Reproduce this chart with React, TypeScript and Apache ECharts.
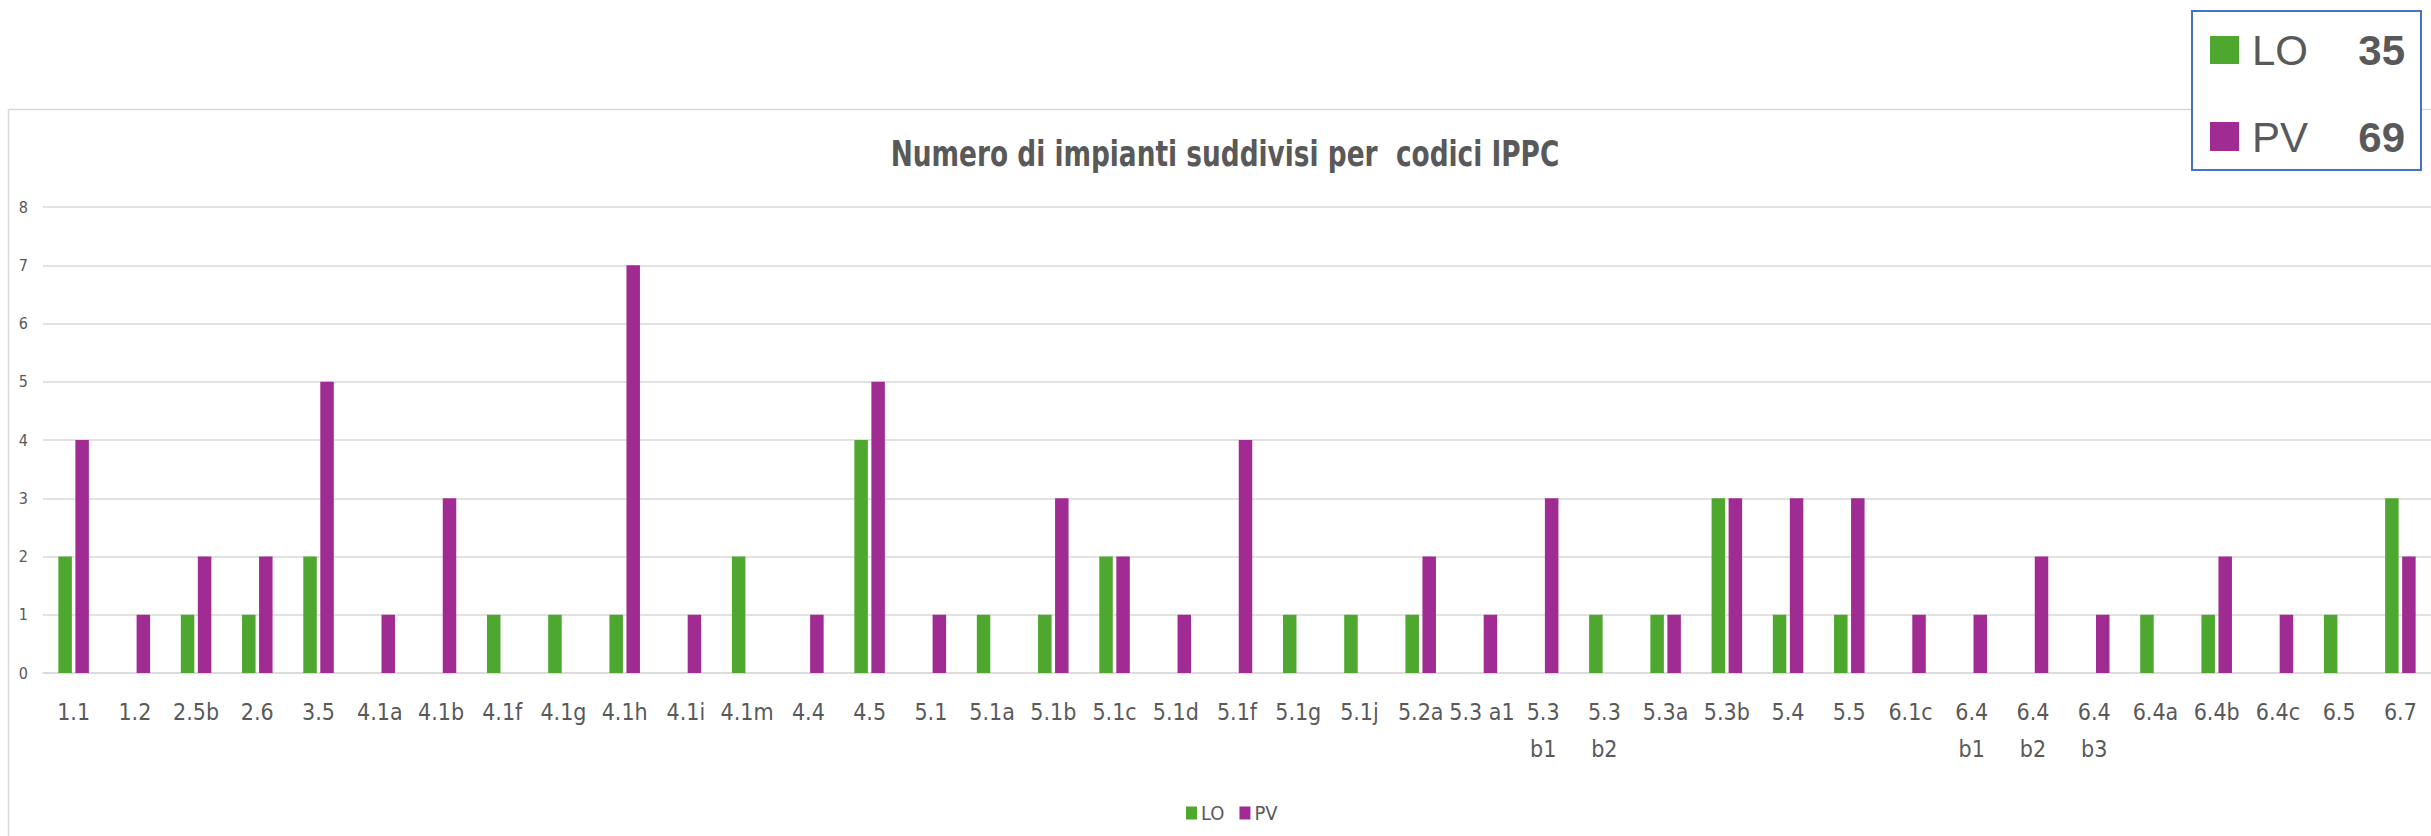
import React, { useEffect, useRef } from "react";
import * as echarts from "echarts";

const categories = [
  "1.1", "1.2", "2.5b", "2.6", "3.5", "4.1a", "4.1b", "4.1f", "4.1g", "4.1h",
  "4.1i", "4.1m", "4.4", "4.5", "5.1", "5.1a", "5.1b", "5.1c", "5.1d", "5.1f",
  "5.1g", "5.1j", "5.2a", "5.3 a1", "5.3\nb1", "5.3\nb2", "5.3a", "5.3b", "5.4", "5.5",
  "6.1c", "6.4\nb1", "6.4\nb2", "6.4\nb3", "6.4a", "6.4b", "6.4c", "6.5", "6.7",
];
const loValues = [
  2, 0, 1, 1, 2, 0, 0, 1, 1, 1,
  0, 2, 0, 4, 0, 1, 1, 2, 0, 0,
  1, 1, 1, 0, 0, 1, 1, 3, 1, 1,
  0, 0, 0, 0, 1, 1, 0, 1, 3,
];
const pvValues = [
  4, 1, 2, 2, 5, 1, 3, 0, 0, 7,
  1, 0, 1, 5, 1, 0, 3, 2, 1, 4,
  0, 0, 2, 1, 3, 0, 1, 3, 3, 3,
  1, 1, 2, 1, 0, 2, 1, 0, 2,
];
const seriesNames = ["LO", "PV"];
const totals = ["35", "69"];
const yTicks = { min: 0, max: 8, interval: 1 };
const title = "Numero di impianti suddivisi per  codici IPPC";

const GREEN = "#4EA72E";
const PURPLE = "#A02B93";
const TEXT = "#595959";
const GRID = "#D9D9D9";
const NARROW = '"Liberation Sans Narrow", "DejaVu Sans Condensed", sans-serif';
const SANS = '"Liberation Sans", Arial, sans-serif';

export default function App() {
  const ref = useRef<HTMLDivElement>(null);
  useEffect(() => {
    if (!ref.current) return;
    const chart = echarts.init(ref.current, undefined, { renderer: "svg" });
    chart.setOption({
      animation: false,
      backgroundColor: "#ffffff",
      grid: { left: 43, right: 0, top: 207, bottom: 163, containLabel: false },
      legend: {
        data: seriesNames,
        left: 1181,
        top: 798,
        itemWidth: 11,
        itemHeight: 13,
        itemGap: 15,
        icon: "rect",
        textStyle: { color: TEXT, fontFamily: NARROW, fontSize: 20, padding: [0, 0, 0, -1] },
      },
      xAxis: {
        type: "category",
        data: categories,
        axisLine: { show: true, lineStyle: { color: GRID, width: 1.5 } },
        axisTick: { show: false },
        axisLabel: {
          interval: 0,
          color: TEXT,
          fontFamily: NARROW,
          fontSize: 23,
          lineHeight: 37,
          margin: 20,
        },
      },
      yAxis: {
        type: "value",
        min: yTicks.min,
        max: yTicks.max,
        interval: yTicks.interval,
        axisLine: { show: false },
        axisTick: { show: false },
        splitLine: { lineStyle: { color: GRID, width: 1.5 } },
        axisLabel: { color: TEXT, fontFamily: NARROW, fontSize: 16, margin: 15 },
      },
      series: [
        {
          name: seriesNames[0],
          type: "bar",
          data: loValues,
          barWidth: 13.5,
          barGap: "26%",
          itemStyle: { color: GREEN },
        },
        {
          name: seriesNames[1],
          type: "bar",
          data: pvValues,
          barWidth: 13.5,
          barGap: "26%",
          itemStyle: { color: PURPLE },
        },
      ],
      graphic: [
        {
          type: "rect",
          z: -10,
          silent: true,
          shape: { x: 8.5, y: 109.5, width: 2500, height: 800 },
          style: { fill: "none", stroke: GRID, lineWidth: 1.5 },
        },
        {
          type: "text",
          x: 1225,
          y: 154,
          scaleX: 0.815,
          style: {
            text: title,
            fill: TEXT,
            font: `bold 36px ${NARROW}`,
            align: "center",
            verticalAlign: "middle",
          },
        },
        {
          type: "group",
          z: 100,
          children: [
            {
              type: "rect",
              shape: { x: 2192, y: 11, width: 229, height: 159 },
              style: { fill: "#ffffff", stroke: "#4472C4", lineWidth: 2 },
            },
            { type: "rect", shape: { x: 2210, y: 36, width: 29, height: 28 }, style: { fill: GREEN } },
            { type: "rect", shape: { x: 2210, y: 122, width: 29, height: 29 }, style: { fill: PURPLE } },
            {
              type: "text", x: 2252, y: 50,
              style: { text: seriesNames[0], fill: TEXT, font: `42px ${SANS}`, align: "left", verticalAlign: "middle" },
            },
            {
              type: "text", x: 2252, y: 137,
              style: { text: seriesNames[1], fill: TEXT, font: `42px ${SANS}`, align: "left", verticalAlign: "middle" },
            },
            {
              type: "text", x: 2405, y: 50,
              style: { text: totals[0], fill: TEXT, font: `bold 42px ${SANS}`, align: "right", verticalAlign: "middle" },
            },
            {
              type: "text", x: 2405, y: 137,
              style: { text: totals[1], fill: TEXT, font: `bold 42px ${SANS}`, align: "right", verticalAlign: "middle" },
            },
          ],
        },
      ],
    });
    return () => chart.dispose();
  }, []);
  return (
    <div
      ref={ref}
      style={{ position: "absolute", left: 0, top: 0, width: 2431, height: 836, background: "#fff" }}
    />
  );
}
